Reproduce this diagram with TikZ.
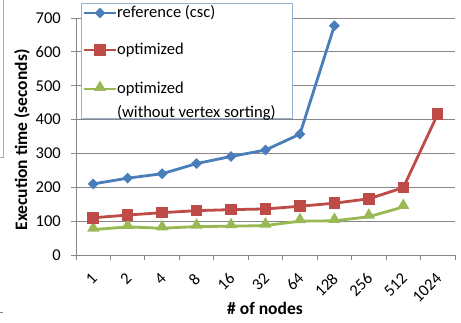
\documentclass[tikz,border=0pt]{standalone}
\usepackage{graphicx}
\usepackage{fontspec}
\setmainfont{Carlito}
\usetikzlibrary{shapes.geometric}
\definecolor{cblue}{HTML}{4A7EBB}
\definecolor{cred}{HTML}{BE4B48}
\definecolor{cgreen}{HTML}{98B954}
\definecolor{gridc}{HTML}{868686}
\definecolor{legc}{HTML}{95B3D7}
\begin{document}
\begin{tikzpicture}[x=1pt,y=1pt,
  font=\fontsize{16.5}{19}\selectfont,
  grid/.style={gridc, line width=0.9pt},
  series/.style={line width=2.8pt, line join=round},
  mdiam/.style={diamond, fill=cblue, inner sep=0pt, minimum width=11pt, minimum height=11pt},
  msq/.style={rectangle, fill=cred, inner sep=0pt, minimum width=11.5pt, minimum height=11.5pt},
  mtri/.style={regular polygon, regular polygon sides=3, fill=cgreen, inner sep=0pt, minimum size=14pt},
  ylab/.style={anchor=east, inner sep=0pt},
  xlab/.style={anchor=north east, inner sep=0pt},
  leglab/.style={anchor=west, inner sep=1pt}]
\useasboundingbox (0,0) rectangle (461,322);
% partial box at left
\draw[legc, line width=0.9pt] (3,322) -- (3,165) -- (0,165);
\draw[gridc, line width=0.8pt] (0,10) -- (3,10);
% gridlines and y labels
\foreach \v in {1,...,7}
  \draw[grid] (76,{67+0.3386*\v*100}) -- (455,{67+0.3386*\v*100});
\foreach \v in {0,...,7}{
  \draw[grid] (71,{67+0.3386*\v*100}) -- (76,{67+0.3386*\v*100});
  \node[ylab] (y\v) at (61,{67+0.3386*\v*100}) {\pgfmathparse{int(\v*100)}\pgfmathresult};
}
\draw[grid] (76,304) -- (76,67) -- (455,67);
\foreach \i in {0,...,11}
  \draw[grid] ({76+34.45*\i},67) -- ({76+34.45*\i},62);
% x labels
\foreach \l [count=\i] in {1,2,4,8,16,32,64,128,256,512,1024}
  \node[xlab] (x\i) at ({76+34.45*(\i-0.5)+5},50) {\rotatebox{45}{\l}};
% axis titles
\node[font=\fontsize{17.5}{20}\selectfont\bfseries, rotate=90] (ytitle) at (22,182) {Execution time (seconds)};
\node[font=\fontsize{17.5}{20}\selectfont\bfseries] (xtitle) at (265,14) {\# of nodes};
% data coordinates
\foreach \v [count=\i] in {210,227,240,270,291,310,357,677}
  \coordinate (r\i) at ({76+34.45*(\i-0.5)},{67+0.3386*\v});
\foreach \v [count=\i] in {110,118,125,131,134,136,144,153,166,199,416}
  \coordinate (o\i) at ({76+34.45*(\i-0.5)},{67+0.3386*\v});
\foreach \v [count=\i] in {75,83,79,84,85,87,100,101,113,142}
  \coordinate (g\i) at ({76+34.45*(\i-0.5)},{67+0.3386*\v});
% series
\draw[series, cgreen] (g1) -- (g2) -- (g3) -- (g4) -- (g5) -- (g6) -- (g7) -- (g8) -- (g9) -- (g10);
\draw[series, cred] (o1) -- (o2) -- (o3) -- (o4) -- (o5) -- (o6) -- (o7) -- (o8) -- (o9) -- (o10) -- (o11);
\draw[series, cblue] (r1) -- (r2) -- (r3) -- (r4) -- (r5) -- (r6) -- (r7) -- (r8);
\foreach \i in {1,...,10} \node[mtri] (gm\i) at ([yshift=1.5pt]g\i) {};
\foreach \i in {1,...,11} \node[msq] (om\i) at (o\i) {};
\foreach \i in {1,...,8} \node[mdiam] (rm\i) at (r\i) {};
% legend
\node[draw=legc, line width=0.9pt, fill=white, minimum width=211pt, minimum height=115pt, anchor=north west, inner sep=0pt] (legend) at (81,319) {};
\draw[series, cblue] (84,309) -- (116,309);
\node[mdiam] (lr) at (100,309) {};
\node[leglab] (lrt) at (116,309) {reference (csc)};
\draw[series, cred] (84,272) -- (116,272);
\node[msq] (lo) at (100,272) {};
\node[leglab] (lot) at (116,272) {optimized};
\draw[series, cgreen] (84,233) -- (116,233);
\node[mtri] (lg) at (100,234.5) {};
\node[leglab] (lgt) at (116,233) {optimized};
\node[leglab] (lgt2) at (116,209) {(without vertex sorting)};
\end{tikzpicture}
\end{document}
